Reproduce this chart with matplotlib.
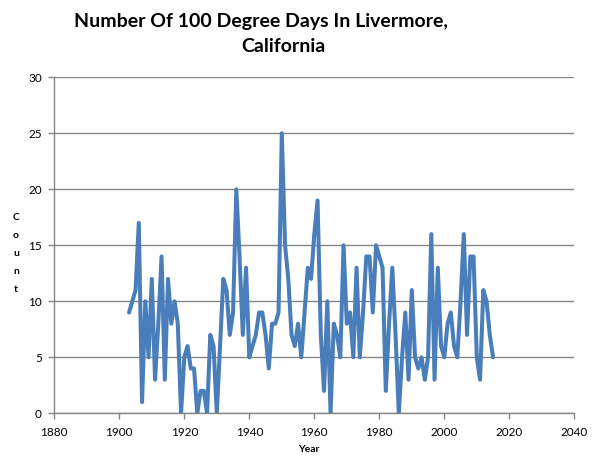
import matplotlib
matplotlib.use("Agg")
import matplotlib.pyplot as plt

years = list(range(1903, 2016))
counts = [
    9, 10, 11, 17, 1, 10, 5, 12, 3, 8,          # 1903-1912
    14, 3, 12, 8, 10, 8, 0, 5, 6, 4,            # 1913-1922
    4, 0, 2, 2, 0, 7, 6, 0, 6, 12,              # 1923-1932
    11, 7, 9, 20, 14, 7, 13, 5, 6, 7,           # 1933-1942
    9, 9, 7, 4, 8, 8, 9, 25, 15, 12,            # 1943-1952
    7, 6, 8, 5, 9, 13, 12, 16, 19, 7,           # 1953-1962
    2, 10, 0, 8, 7, 5, 15, 8, 9, 5,             # 1963-1972
    13, 5, 9, 14, 14, 9, 15, 14, 13, 2,         # 1973-1982
    8, 13, 7, 0, 5, 9, 3, 11, 5, 4,             # 1983-1992
    5, 3, 5, 16, 3, 13, 6, 5, 8, 9,             # 1993-2002
    6, 5, 10, 16, 7, 14, 14, 5, 3, 11,          # 2003-2012
    10, 7, 5,                                   # 2013-2015
]
x_ticks = list(range(1880, 2041, 20))
y_ticks = list(range(0, 31, 5))
title_line1 = "Number Of 100 Degree Days In Livermore,"
title_line2 = "California"
x_label = "Year"
y_label = "Count"

plt.rcParams['font.family'] = ['Lato', 'DejaVu Sans']

W, H = 593, 469
fig = plt.figure(figsize=(W / 100, H / 100), dpi=100)
ax = fig.add_axes([54.3 / W, 1 - 413.3 / H, (574.3 - 54.3) / W, (413.3 - 77.3) / H])

gray = '#868686'
ax.plot(years, counts, color='#4A7EBB', lw=2.9, solid_joinstyle='round', solid_capstyle='round', zorder=3)

ax.set_xlim(1880, 2040)
ax.set_ylim(0, 30)
ax.set_xticks(x_ticks)
ax.set_yticks(y_ticks)
ax.yaxis.grid(True, color=gray, lw=1.0)
ax.set_axisbelow(True)
for s in ['top', 'right']:
    ax.spines[s].set_visible(False)
for s in ['left', 'bottom']:
    ax.spines[s].set_color(gray)
    ax.spines[s].set_linewidth(1.0)
ax.tick_params(axis='both', direction='out', length=4, width=1.0, color=gray,
               labelsize=8.5, labelcolor='black')
ax.tick_params(axis='y', pad=5)
ax.tick_params(axis='x', pad=6)

fig.text(261 / W, 1 - 27 / H, title_line1, ha='center', va='baseline',
         fontsize=14, fontweight='bold')
fig.text(283 / W, 1 - 52 / H, title_line2, ha='center', va='baseline',
         fontsize=14, fontweight='bold')

fig.text(309 / W, 1 - 449 / H, x_label, ha='center', va='center',
         fontsize=7.5, fontweight='bold')
for i, ch in enumerate(y_label):
    fig.text(16 / W, 1 - (217 + 18 * i) / H, ch, ha='center', va='center',
             fontsize=7.5, fontweight='bold')

fig.savefig('out.png', dpi=100)
